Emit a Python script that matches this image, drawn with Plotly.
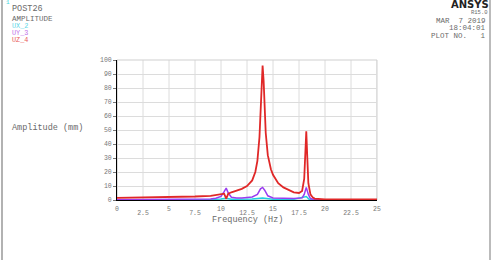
import plotly.graph_objects as go

# ---------------- data ----------------
freq_uz = [0, 2.5, 5, 7.5, 9, 10, 10.3, 10.5, 10.7, 11, 11.5, 12, 12.5, 13, 13.3, 13.5, 13.7, 13.8, 13.9, 14.0,
           14.1, 14.2, 14.3, 14.5, 14.8, 15, 15.5, 16, 16.5, 17, 17.5, 17.8, 18.0, 18.1, 18.2, 18.3, 18.4,
           18.6, 18.8, 19, 19.5, 20, 22.5, 25]
amp_uz = [1.5, 1.7, 2.0, 2.5, 3.0, 3.8, 4.5, 1.0, 4.5, 5.5, 6.5, 8, 10, 14, 20, 28, 45, 60, 80, 96,
          85, 65, 48, 32, 22, 18, 12, 9, 7, 5.5, 5, 6.5, 15, 30, 49, 30, 12,
          4, 2, 1, 0.6, 0.5, 0.4, 0.4]

freq_uy = [0, 5, 8, 9, 9.5, 10, 10.3, 10.5, 10.7, 11, 11.5, 12, 13, 13.5, 13.8, 14.0, 14.2, 14.5, 15, 16, 17,
           17.8, 18.0, 18.2, 18.4, 18.6, 19, 25]
amp_uy = [0.2, 0.3, 0.5, 0.8, 1.2, 2.5, 6, 8.5, 5, 2, 1.5, 1.5, 2.2, 4, 8, 9, 7, 3, 1.5, 1, 1,
          1.5, 4, 9, 4, 1, 0.3, 0.2]

freq_ux = [0, 8, 8.5, 9, 10, 10.5, 11, 13, 14, 15, 17, 18.2, 18.5, 25]
amp_ux = [0, 0.2, 0.6, 0.3, 0.8, 1.2, 0.5, 0.8, 1.5, 0.6, 0.5, 2.5, 0.3, 0]

x_major = [0, 5, 10, 15, 20, 25]
x_minor = [2.5, 7.5, 12.5, 17.5, 22.5]
y_ticks = [0, 10, 20, 30, 40, 50, 60, 70, 80, 90, 100]

# ---------------- figure ----------------
W, H = 499, 260
L, R, T, B = 117, 377, 60, 200

def px(x):
    return (x - L) / (R - L)

def py(y):
    return (B - y) / (B - T)

GREY = "#6a6a6a"
MONO = "Liberation Mono"

fig = go.Figure()
fig.add_trace(go.Scatter(x=freq_ux, y=amp_ux, mode="lines", line=dict(color="#20d0e0", width=1.5),
                         name="UX_2", showlegend=False))
fig.add_trace(go.Scatter(x=freq_uy, y=amp_uy, mode="lines", line=dict(color="#9a3cf0", width=1.5),
                         name="UY_3", showlegend=False))
fig.add_trace(go.Scatter(x=freq_uz, y=amp_uz, mode="lines", line=dict(color="#e02828", width=1.8),
                         name="UZ_4", showlegend=False))
# anchor trace for the secondary tick row
fig.add_trace(go.Scatter(x=[], y=[], xaxis="x2", showlegend=False))

axis_font = dict(family=MONO, size=6.5, color="#777777")

fig.update_layout(
    width=W, height=H,
    margin=dict(l=L, r=W - R, t=T, b=H - B),
    paper_bgcolor="white", plot_bgcolor="white",
    xaxis=dict(range=[0, 25], tickvals=x_major, ticktext=[str(v) for v in x_major],
               showgrid=False, zeroline=False, showline=True, linecolor="black", linewidth=1,
               ticks="", tickfont=axis_font, ticklabelstandoff=2),
    xaxis2=dict(range=[0, 25], overlaying="x", side="bottom", anchor="y",
                tickvals=x_minor, ticktext=[str(v) for v in x_minor],
                showgrid=False, zeroline=False, showline=False, ticks="",
                tickfont=axis_font, ticklabelstandoff=7),
    yaxis=dict(range=[0, 100], tickvals=y_ticks, ticktext=[str(v) for v in y_ticks],
               showgrid=True, gridcolor="#dcdcdc", gridwidth=1, zeroline=False,
               showline=True, linecolor="black", linewidth=1, ticks="outside", ticklen=3,
               tickcolor="#777777", tickfont=axis_font),
)

# vertical grid lines every 2.5 (drawn under data)
for v in x_major + x_minor:
    fig.add_shape(type="line", xref="x", yref="paper", x0=v, x1=v, y0=0, y1=1,
                  line=dict(color="#dcdcdc", width=1), layer="below")
# plot frame top/right
fig.add_shape(type="rect", xref="paper", yref="paper", x0=0, x1=1, y0=0, y1=1,
              line=dict(color="#cfcfcf", width=1), layer="below")

# outer page frame
fig.add_shape(type="line", xref="paper", yref="paper", x0=px(2), x1=px(2), y0=py(0), y1=py(260),
              line=dict(color="#999999", width=1.5))
fig.add_shape(type="line", xref="paper", yref="paper", x0=px(490), x1=px(490), y0=py(0), y1=py(260),
              line=dict(color="#bbbbbb", width=2))

def txt(x, y, s, size=8.5, color=GREY, xanchor="left", family=MONO, bold=False):
    fig.add_annotation(x=px(x), y=py(y), xref="paper", yref="paper", text=("<b>%s</b>" % s) if bold else s,
                       showarrow=False, xanchor=xanchor, yanchor="middle", borderpad=0,
                       font=dict(family=family, size=size, color=color))

txt(5, 3, "1", size=6, color="#40d8e0")
txt(11, 9.5, "POST26", size=8.5)
txt(11, 19, "AMPLITUDE", size=7.5)
txt(11, 26.5, "UX_2", size=6.8, color="#60d8e8")
txt(11, 33.2, "UY_3", size=6.8, color="#c070e8")
txt(11, 40, "UZ_4", size=6.8, color="#e85858")

txt(490, 4.5, "ANSYS", size=10, color="#222222", xanchor="right", family="DejaVu Sans", bold=True)
txt(489, 12.5, "R15.0", size=5.5, xanchor="right")
txt(487, 21, "MAR  7 2019", size=7.5, xanchor="right")
txt(487, 28.5, "18:04:01", size=7.5, xanchor="right")
txt(487, 36, "PLOT NO.   1", size=7.5, xanchor="right")

txt(11, 128, "Amplitude (mm)", size=8.5)
txt(247, 220, "Frequency (Hz)", size=8.5, xanchor="center")

fig.write_html("out.html")
